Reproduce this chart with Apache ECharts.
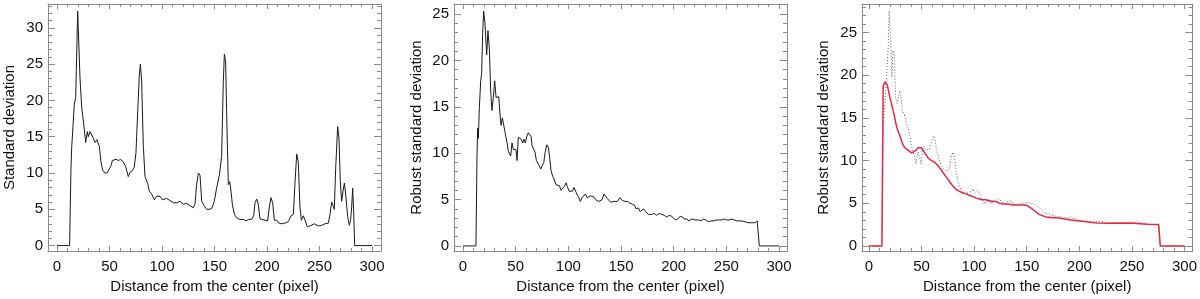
<!DOCTYPE html>
<html>
<head>
<meta charset="utf-8">
<title>Standard deviation profiles</title>
<script src="https://cdn.jsdelivr.net/npm/echarts@6/dist/echarts.min.js"></script>
<style>
  html, body { margin: 0; padding: 0; background: #fff; }
  #chart { width: 1200px; height: 299px; }
</style>
</head>
<body>
<div id="chart"></div>
<script>
// [distance, value] pairs
const stdDev = [
  [0, 0], [12, 0], [13.3, 10.6], [14, 13.5], [16.5, 19.5], [17.8, 20.4], [19.7, 32.3], [21.9, 23.1],
  [23.5, 19.1], [26, 16], [27.3, 14.2], [28.9, 15.7], [29.8, 15], [31.4, 15.7], [33, 15.8], [34.6, 14.8],
  [36.2, 14.2], [38.1, 14.6], [39.4, 14], [40.3, 13.7], [41.9, 11.5], [43.5, 10.4], [45.7, 10], [47.9, 10],
  [49.5, 9.8], [51.4, 11], [52.7, 11.7], [54.6, 11.5], [56.2, 11.9], [58.4, 11.7], [60.6, 11.9], [63.2, 11.5],
  [65.4, 10.9], [67.9, 9.5], [69.5, 10.1], [71.7, 10.3], [73.6, 10.8], [75.2, 12.8], [76.8, 18.2], [78.4, 23.5],
  [79.4, 25], [80.6, 22.8], [82.2, 13.8], [83.8, 9.5], [86.3, 8.6], [87.9, 7.5], [90.2, 7.1], [92.7, 6.3],
  [94.9, 6.8], [98.1, 6.8], [100.3, 6.3], [104.4, 6.5], [107.6, 6.2], [110.8, 5.9], [114, 5.9], [117.1, 6.1],
  [120.3, 5.7], [123.5, 5.8], [126.7, 5.5], [129.8, 5.2], [131.4, 5.7], [133, 8.4], [134.6, 10], [136.2, 9.7],
  [137.8, 6.1], [140, 5.5], [142.6, 5], [144.8, 5], [147.3, 5.1], [149.8, 6.1], [152, 7.9], [154.6, 9.7],
  [156.8, 12.3], [158.4, 22.6], [159.4, 26.4], [160.6, 25.3], [161.9, 16], [163.2, 8.4], [164.5, 8.8], [165.7, 7.5],
  [167, 5.7], [168.9, 4.3], [171.1, 3.8], [174.3, 3.6], [177.5, 3.6], [180, 3.4], [182.2, 3.6], [185.4, 3.6],
  [187.3, 4.1], [188.6, 5.9], [190.2, 6.4], [191.7, 5.7], [193.3, 3.7], [194.9, 3.5], [198.1, 3.5], [200.6, 3.4],
  [202.2, 5.3], [203.8, 6.6], [205.4, 5.9], [207, 3.5], [209.2, 3.5], [211.4, 3.1], [214, 3], [217.1, 3.1],
  [220.3, 3.3], [222.9, 4.1], [225.1, 4.3], [226.7, 8.8], [228.3, 12.6], [229.8, 11.5], [231.4, 5.3], [232.7, 3.5],
  [234.6, 4.1], [236.2, 3.5], [238.4, 2.6], [241, 2.7], [245.1, 3], [248.9, 2.7], [252.1, 2.8], [255.2, 3],
  [258.4, 3.1], [260, 4.3], [261.6, 6], [263.2, 5.4], [264.1, 5], [265.4, 10.6], [267.3, 16.4], [268.6, 14.7],
  [269.8, 8.8], [271.1, 6.1], [272.4, 7.5], [273.7, 8.6], [274.9, 7.1], [276.8, 4], [278.4, 2.8], [279.6, 3.5],
  [280.6, 5.2], [281.6, 7.9], [282.5, 4.8], [283.5, 0], [300, 0]
];

const robustStd = [
  [0, 0], [12.3, 0], [13.3, 9.7], [13.9, 12.7], [14.6, 11.6], [15.5, 14.8], [16.8, 17.8], [17.7, 18.6],
  [18.7, 23], [19.6, 25.3], [20.9, 24], [22.5, 20.6], [23.7, 23.2], [25, 21.3], [26.3, 16.7], [27.5, 14.6],
  [28.8, 16], [30.1, 17.8], [31.4, 16], [32.6, 15.9], [33.9, 16.1], [35.2, 14.1], [36.1, 13], [37.4, 13.8],
  [38.7, 13], [40, 12.2], [41.2, 12], [42.2, 10.9], [43, 10.2], [44, 10.4], [45.3, 9.7], [46.5, 11.1],
  [47.8, 10.4], [49.1, 10.6], [50.3, 10.4], [51.3, 9.2], [52.5, 11.7], [53.8, 11.8], [55.4, 11.5], [56.7, 11.1],
  [57.9, 11.5], [59.2, 11.1], [60.5, 11.8], [62.1, 12.2], [63.3, 12.4], [64.6, 11.8], [65.6, 10.8], [67.2, 10.6],
  [68.4, 10.1], [69.7, 9.2], [71, 9.2], [72.2, 8.7], [73.8, 8.3], [75.4, 8.5], [76.7, 9], [78, 10.1],
  [79.5, 10.9], [81.1, 10.6], [82.4, 9.4], [83.6, 8.1], [85.2, 7.5], [86.8, 7.1], [88.3, 6.6], [89.9, 6.4],
  [91.5, 6.5], [93.1, 6], [94.7, 6.1], [96.3, 6.4], [97.8, 6.8], [99.1, 6.4], [100.7, 5.9], [102.3, 6],
  [103.9, 5.9], [105.5, 6.3], [106.7, 6.2], [108, 5.6], [109.6, 5.3], [111.4, 4.8], [113, 5.2], [114.6, 5.4],
  [116.2, 5.6], [117.8, 5.2], [119.4, 5], [121, 5.4], [122.5, 5.5], [124.1, 5.3], [125.7, 5], [127.3, 5.1],
  [128.9, 4.8], [130.5, 4.8], [132.1, 5], [133.9, 5.6], [135.5, 5.4], [137.1, 5.1], [138.7, 5], [140.3, 4.7],
  [141.8, 4.8], [143.4, 4.8], [145, 4.9], [146.6, 4.8], [148.2, 5], [149, 5.2], [151.3, 4.9], [153.8, 4.8],
  [156.4, 4.8], [158.6, 4.6], [160.8, 4.5], [162.7, 4.4], [164.3, 4], [166.5, 4.1], [168.1, 3.7], [169.7, 3.6],
  [171.3, 4], [173.5, 3.7], [175.9, 3.4], [179.1, 3.4], [181.6, 3.5], [183.8, 3.3], [186, 3.5], [188.6, 3.4],
  [191.1, 3.3], [193.4, 3.1], [195.7, 3.3], [198.2, 3.2], [200.7, 2.9], [202.9, 2.8], [205.2, 3.1], [207.7, 3.2],
  [209.9, 2.9], [212.5, 2.9], [214.7, 2.7], [217.2, 2.9], [220.4, 2.8], [223.5, 2.8], [226.1, 2.7], [228.1, 2.9],
  [230.5, 2.8], [233, 2.6], [235.5, 2.7], [238.1, 2.7], [240.9, 2.8], [243.1, 2.8], [245.7, 2.8], [248.2, 2.9],
  [250.4, 2.8], [252.6, 2.8], [255.2, 2.9], [257, 2.7], [260, 2.7], [262.2, 2.7], [264.7, 2.7], [267.9, 2.6],
  [271.1, 2.5], [274.2, 2.5], [277.4, 2.5], [279.3, 2.7], [280.6, 2.9], [281.3, 0], [300, 0]
];

// third panel: dotted raw profile and red smoothed profile
const robustRaw = [
  [0, 0], [12.3, 0], [13.5, 13.6], [16.7, 19.7], [18.3, 23.3], [19.2, 27.6], [20.5, 24.7], [21.8, 19.7],
  [22.9, 22.9], [24.3, 22.3], [25.3, 17.4], [26.7, 16.7], [28, 17.4], [29.3, 18.2], [30.6, 17.4], [31.8, 15.9],
  [33.1, 15.7], [34.4, 15.1], [35.7, 14.2], [37.3, 13.8], [38.8, 12.9], [40.4, 11.7], [42, 11], [43.6, 10.2],
  [44.5, 9.6], [45.8, 10.6], [47, 11], [48.3, 10.2], [49.5, 9.6], [50.8, 11.3], [52.4, 11.7], [54, 11.2],
  [55.5, 11], [57.1, 11.3], [58.7, 11.9], [60.3, 12.5], [61.5, 12.9], [62.8, 12.5], [64.1, 11.3], [65.7, 10.6],
  [67.3, 9.8], [68.8, 9.4], [70.4, 9.1], [72, 8.9], [73.6, 8.7], [75.2, 8.7], [76.7, 9.1], [78.3, 10.4],
  [79.9, 11], [81.5, 10.2], [83, 8.7], [84.6, 7.5], [86.2, 7], [87.8, 6.6], [89.3, 6.4], [90.9, 6.2],
  [92.5, 6.1], [94.1, 6.2], [95.6, 6], [97.2, 6.4], [98.8, 6.7], [100.4, 6.2], [101.9, 6], [103.5, 6.5],
  [105.1, 6.2], [106.7, 5.6], [108.3, 5.2], [109.8, 4.9], [111.4, 5.2], [113, 5.4], [114.6, 5.2], [116.1, 4.9],
  [117.7, 5.3], [119.3, 5.5], [120.9, 5.2], [122.5, 5.4], [124.1, 5.5], [125.6, 5.2], [127.2, 5], [128.8, 4.9],
  [130.4, 5], [132, 5.2], [133.5, 5.4], [135.1, 5.3], [136.7, 5], [138.3, 4.9], [139.8, 4.8], [143, 4.9],
  [146.1, 5], [149.3, 5.1], [150.8, 5.1], [157.1, 4.9], [161.9, 4.5], [166.6, 3.9], [171.3, 3.7], [176.1, 3.5],
  [182.4, 3.4], [188.7, 3.3], [195, 3.2], [201.3, 3], [207.6, 2.9], [213.9, 2.8], [220.2, 2.9], [226.5, 2.7],
  [232.8, 2.7], [239.1, 2.6], [245.4, 2.7], [251.6, 2.8], [257.9, 2.7], [264.2, 2.6], [270.5, 2.5], [275.4, 2.5],
  [277, 0], [300, 0]
];

const robustSmooth = [
  [0, 0], [12.3, 0], [13.5, 18.7], [15.1, 19.2], [16.1, 19.4], [17.3, 18.9], [18.6, 18.2], [19.9, 17.4],
  [21.5, 16.6], [23.1, 15.8], [24.7, 14.9], [26.2, 14], [27.8, 13.4], [29.4, 12.9], [31, 12.3], [32.6, 11.8],
  [34.1, 11.5], [35.7, 11.3], [37.3, 11.2], [38.9, 11], [40.5, 10.9], [42.1, 10.9], [43.6, 11.1], [45.2, 11.3],
  [46.8, 11.5], [48.3, 11.6], [49.9, 11.5], [51.5, 11.3], [53.1, 10.9], [54.7, 10.6], [56.3, 10.3], [57.8, 10.1],
  [59.4, 10], [61, 9.8], [62.5, 9.8], [64.1, 9.6], [65.7, 9.4], [67.3, 9.2], [68.8, 8.9], [70.4, 8.6],
  [72, 8.3], [73.6, 8.1], [75.2, 7.8], [76.7, 7.5], [78.3, 7.3], [79.9, 7], [81.5, 6.8], [83, 6.6],
  [84.6, 6.5], [86.2, 6.4], [89.3, 6.2], [92.5, 6.1], [95.6, 5.9], [98.8, 5.8], [101.9, 5.6], [105.1, 5.5],
  [108.3, 5.4], [111.4, 5.4], [114.6, 5.3], [117.7, 5.2], [120.9, 5.2], [124.1, 5], [127.2, 4.9], [130.4, 4.9],
  [133.5, 4.9], [136.7, 4.8], [139.8, 4.8], [143, 4.8], [146.1, 4.8], [149.2, 4.8], [155.5, 4.3], [161.8, 3.7],
  [168.1, 3.4], [174.4, 3.3], [179.1, 3.3], [191.7, 3.05], [204.3, 2.85], [216.9, 2.7], [229.5, 2.65], [238.9, 2.7],
  [251.6, 2.65], [264.2, 2.55], [275.4, 2.5], [276.3, 2.6], [277, 0], [300, 0]
];

const xTitle = 'Distance from the center (pixel)';
const yTitles = ['Standard deviation', 'Robust standard deviation', 'Robust standard deviation'];

var chart = echarts.init(document.getElementById('chart'));

const FONT = 'Liberation Sans, Arial, Helvetica, sans-serif';
const boxColor = '#8a8a8a';

// plot boxes in px, and axis ranges to match the reference framing
const panels = [
  { left: 48, width: 333, xr: [-8.57, 308.57], yr: [-0.76, 33.28], nameGap: 31 },
  { left: 454, width: 333, xr: [-8.54, 307.6], yr: [-0.556, 26.08], nameGap: 30 },
  { left: 862, width: 332, xr: [-6.62, 307.6], yr: [-0.604, 28.34], nameGap: 31 }
];

function xAx(i, pos) {
  const p = panels[i];
  return {
    type: 'value', gridIndex: i, position: pos,
    min: p.xr[0], max: p.xr[1], splitNumber: 6,
    name: pos === 'bottom' ? xTitle : '',
    nameLocation: 'middle', nameGap: 25,
    nameTextStyle: { fontFamily: FONT, fontSize: 15, color: '#111' },
    axisLine: { show: true, onZero: false, lineStyle: { color: boxColor, width: 1 } },
    axisTick: { show: true, inside: true, length: 5, lineStyle: { color: boxColor } },
    minorTick: { show: true, splitNumber: 5, length: 3, lineStyle: { color: boxColor } },
    axisLabel: {
      show: pos === 'bottom', margin: 8, showMinLabel: false, showMaxLabel: false,
      fontFamily: FONT, fontSize: 15, color: '#111'
    },
    splitLine: { show: false }
  };
}

function yAx(i, pos) {
  const p = panels[i];
  return {
    type: 'value', gridIndex: i, position: pos,
    min: p.yr[0], max: p.yr[1], splitNumber: 6,
    name: pos === 'left' ? yTitles[i] : '',
    nameLocation: 'middle', nameGap: p.nameGap,
    nameTextStyle: { fontFamily: FONT, fontSize: 15, color: '#111' },
    axisLine: { show: true, onZero: false, lineStyle: { color: boxColor, width: 1 } },
    axisTick: { show: true, inside: true, length: 7, lineStyle: { color: boxColor } },
    minorTick: { show: true, splitNumber: 5, length: 4, lineStyle: { color: boxColor } },
    axisLabel: {
      show: pos === 'left', margin: 5, showMinLabel: false, showMaxLabel: false,
      fontFamily: FONT, fontSize: 15, color: '#111'
    },
    splitLine: { show: false }
  };
}

const option = {
  animation: false,
  backgroundColor: '#fff',
  grid: panels.map(p => ({ left: p.left, top: 4, width: p.width, height: 254, containLabel: false })),
  xAxis: [xAx(0, 'bottom'), xAx(0, 'top'), xAx(1, 'bottom'), xAx(1, 'top'), xAx(2, 'bottom'), xAx(2, 'top')],
  yAxis: [yAx(0, 'left'), yAx(0, 'right'), yAx(1, 'left'), yAx(1, 'right'), yAx(2, 'left'), yAx(2, 'right')],
  series: [
    {
      type: 'line', xAxisIndex: 0, yAxisIndex: 0, data: stdDev,
      symbol: 'none', lineStyle: { color: '#1a1a1a', width: 1 }
    },
    {
      type: 'line', xAxisIndex: 2, yAxisIndex: 2, data: robustStd,
      symbol: 'none', lineStyle: { color: '#1a1a1a', width: 1 }
    },
    {
      type: 'line', xAxisIndex: 4, yAxisIndex: 4, data: robustRaw,
      symbol: 'none', lineStyle: { color: '#5a6478', width: 1, type: [1, 2] }
    },
    {
      type: 'line', xAxisIndex: 4, yAxisIndex: 4, data: robustSmooth,
      symbol: 'none', lineStyle: { color: '#e5283c', width: 1.5 }
    }
  ]
};

chart.setOption(option);
</script>
</body>
</html>
